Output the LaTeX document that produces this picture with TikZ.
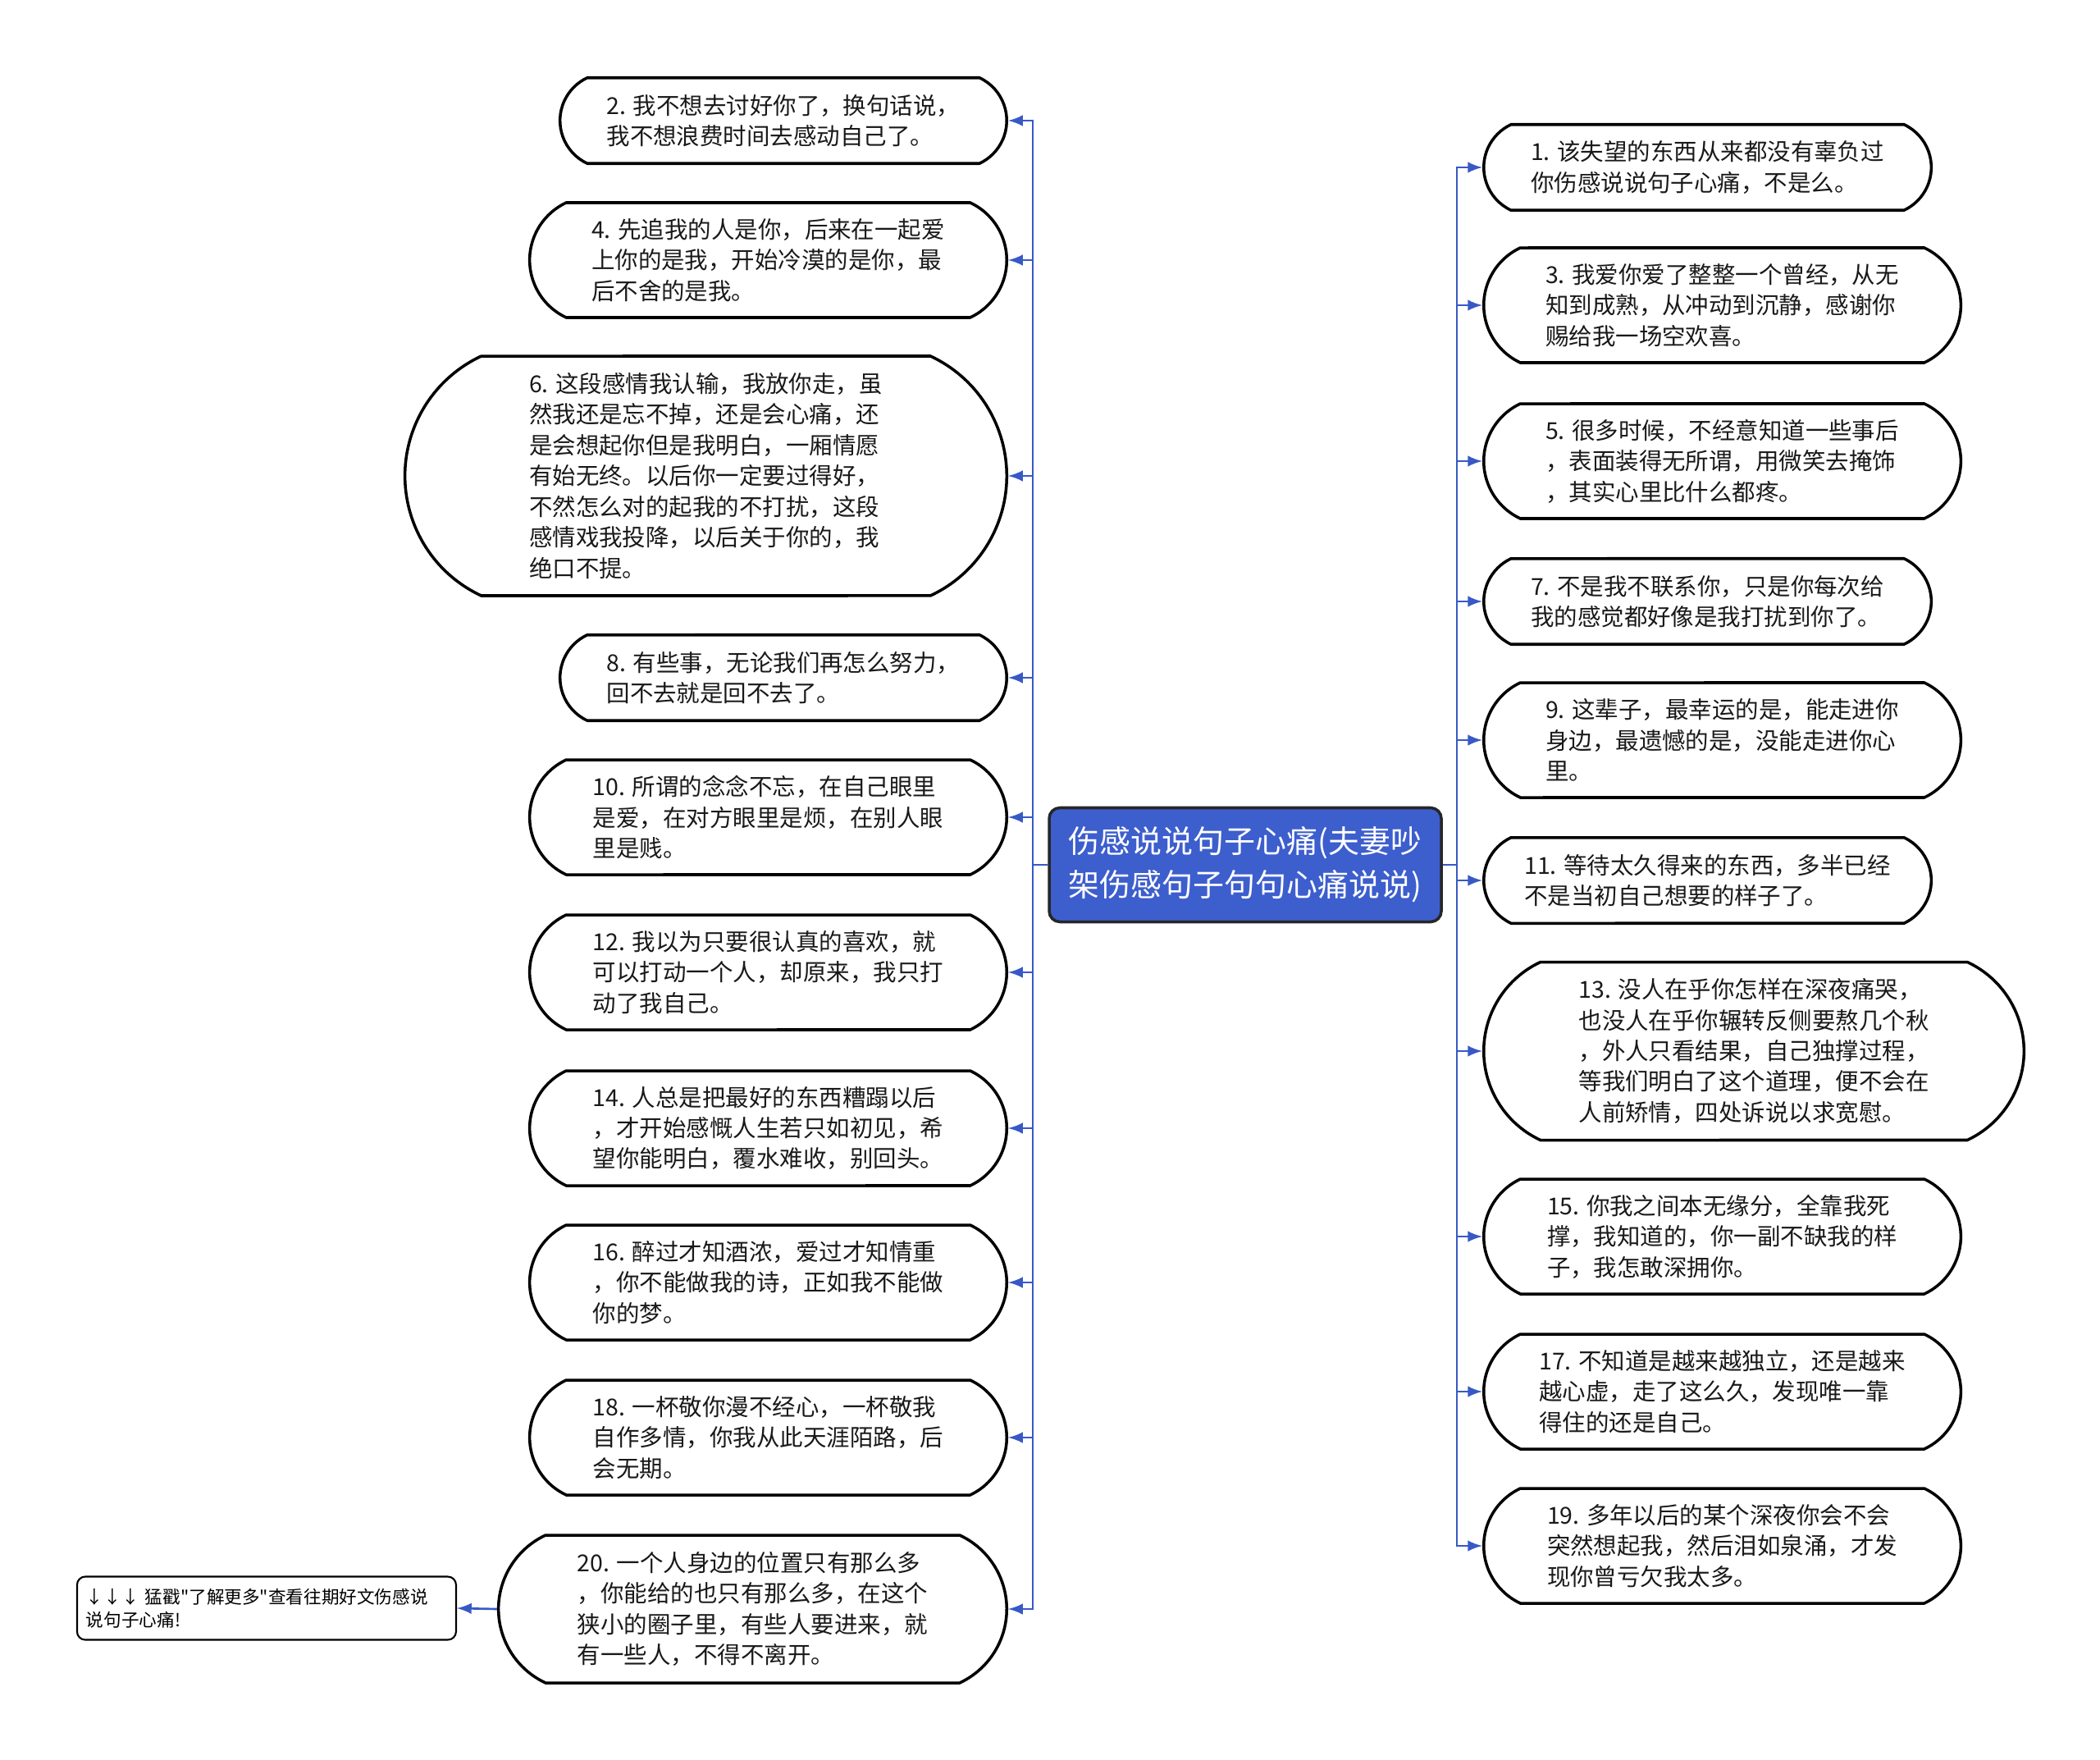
\documentclass[tikz,border=0pt]{standalone}
\usepackage{fontspec}
\setmainfont{Noto Sans CJK SC}
\newfontfamily\notefont{Noto Sans CJK SC}
\usetikzlibrary{shapes.misc}
\definecolor{linkblue}{RGB}{56,89,197}
\definecolor{rootblue}{RGB}{61,94,205}

\begin{document}
\begin{tikzpicture}[
  leaf/.style={rounded rectangle,rounded rectangle arc length=130,draw=black,line width=1pt,fill=white,align=left,text=black!90,font=\fontsize{8.1}{10.66}\selectfont},
  two/.style={leaf,minimum width=5.68cm,minimum height=1.045cm},
  three/.style={leaf,minimum width=6.05cm,minimum height=1.40cm},
  link/.style={linkblue,line width=0.75pt,-latex}]
\useasboundingbox (0,0) rectangle (25.6,-21.45);
\path (15.18,-10.54) node(t)[rectangle,rounded corners=0.13cm,draw=black!85,fill=rootblue,line width=1pt,minimum width=4.78cm,minimum height=1.39cm,text=white,align=left,font=\fontsize{10.8}{15}\selectfont]{伤感说说句子心痛(夫妻吵\\ 架伤感句子句句心痛说说)}
(12.29,-1.47) node(p2)[two,anchor=east]{2. 我不想去讨好你了，换句话说，\\ 我不想浪费时间去感动自己了。}
(12.29,-3.17) node(p4)[three,anchor=east]{4. 先追我的人是你，后来在一起爱\\ 上你的是我，开始冷漠的是你，最\\ 后不舍的是我。}
(12.29,-5.80) node(p6)[leaf,anchor=east,minimum width=7.57cm,minimum height=2.92cm]{6. 这段感情我认输，我放你走，虽\\ 然我还是忘不掉，还是会心痛，还\\ 是会想起你但是我明白，一厢情愿\\ 有始无终。以后你一定要过得好，\\ 不然怎么对的起我的不打扰，这段\\ 感情戏我投降，以后关于你的，我\\ 绝口不提。}
(12.29,-8.26) node(p8)[two,anchor=east]{8. 有些事，无论我们再怎么努力，\\ 回不去就是回不去了。}
(12.29,-9.96) node(p10)[three,anchor=east]{10. 所谓的念念不忘，在自己眼里\\ 是爱，在对方眼里是烦，在别人眼\\ 里是贱。}
(12.29,-11.85) node(p12)[three,anchor=east]{12. 我以为只要很认真的喜欢，就\\ 可以打动一个人，却原来，我只打\\ 动了我自己。}
(12.29,-13.75) node(p14)[three,anchor=east]{14. 人总是把最好的东西糟蹋以后\\ ，才开始感慨人生若只如初见，希\\ 望你能明白，覆水难收，别回头。}
(12.29,-15.63) node(p16)[three,anchor=east]{16. 醉过才知酒浓，爱过才知情重\\ ，你不能做我的诗，正如我不能做\\ 你的梦。}
(12.29,-17.52) node(p18)[three,anchor=east]{18. 一杯敬你漫不经心，一杯敬我\\ 自作多情，你我从此天涯陌路，后\\ 会无期。}
(12.29,-19.61) node(p20)[leaf,anchor=east,minimum width=6.43cm,minimum height=1.80cm]{20. 一个人身边的位置只有那么多\\ ，你能给的也只有那么多，在这个\\ 狭小的圈子里，有些人要进来，就\\ 有一些人，不得不离开。}
(5.57,-19.60) node(m)[rectangle,anchor=east,rounded corners=0.1cm,draw=black,line width=0.6pt,text width=4.40cm,inner xsep=0.11cm,minimum height=0.77cm,align=left,font=\notefont\fontsize{6.15}{7.9}\selectfont]{↓↓↓ 猛戳"了解更多"查看往期好文伤感说\\ 说句子心痛!}
(18.07,-2.04) node(p1)[two,anchor=west,minimum width=5.69cm]{1. 该失望的东西从来都没有辜负过\\ 你伤感说说句子心痛，不是么。}
(18.07,-3.72) node(p3)[three,anchor=west]{3. 我爱你爱了整整一个曾经，从无\\ 知到成熟，从冲动到沉静，感谢你\\ 赐给我一场空欢喜。}
(18.07,-5.62) node(p5)[three,anchor=west]{5. 很多时候，不经意知道一些事后\\ ，表面装得无所谓，用微笑去掩饰\\ ，其实心里比什么都疼。}
(18.07,-7.33) node(p7)[two,anchor=west,minimum width=5.69cm]{7. 不是我不联系你，只是你每次给\\ 我的感觉都好像是我打扰到你了。}
(18.07,-9.02) node(p9)[three,anchor=west]{9. 这辈子，最幸运的是，能走进你\\ 身边，最遗憾的是，没能走进你心\\ 里。}
(18.07,-10.73) node(p11)[two,anchor=west,minimum width=5.69cm]{11. 等待太久得来的东西，多半已经\\ 不是当初自己想要的样子了。}
(18.07,-12.81) node(p13)[leaf,anchor=west,minimum width=6.82cm,minimum height=2.17cm]{13. 没人在乎你怎样在深夜痛哭，\\ 也没人在乎你辗转反侧要熬几个秋\\ ，外人只看结果，自己独撑过程，\\ 等我们明白了这个道理，便不会在\\ 人前矫情，四处诉说以求宽慰。}
(18.07,-15.07) node(p15)[three,anchor=west]{15. 你我之间本无缘分，全靠我死\\ 撑，我知道的，你一副不缺我的样\\ 子，我怎敢深拥你。}
(18.07,-16.96) node(p17)[three,anchor=west]{17. 不知道是越来越独立，还是越来\\ 越心虚，走了这么久，发现唯一靠\\ 得住的还是自己。}
(18.07,-18.84) node(p19)[three,anchor=west]{19. 多年以后的某个深夜你会不会\\ 突然想起我，然后泪如泉涌，才发\\ 现你曾亏欠我太多。};
\coordinate (lb) at (12.59,-10.54);
\coordinate (rb) at (17.76,-10.54);
%left branch
\draw[link](t.west)--(lb)|-(p2.east);
\draw[link](t.west)--(lb)|-(p4.east);
\draw[link](t.west)--(lb)|-(p6.east);
\draw[link](t.west)--(lb)|-(p8.east);
\draw[link](t.west)--(lb)|-(p10.east);
\draw[link](t.west)--(lb)|-(p12.east);
\draw[link](t.west)--(lb)|-(p14.east);
\draw[link](t.west)--(lb)|-(p16.east);
\draw[link](t.west)--(lb)|-(p18.east);
\draw[link](t.west)--(lb)|-(p20.east);
\draw[link](p20.west)--(m.east);
%right branch
\draw[link](t.east)--(rb)|-(p1.west);
\draw[link](t.east)--(rb)|-(p3.west);
\draw[link](t.east)--(rb)|-(p5.west);
\draw[link](t.east)--(rb)|-(p7.west);
\draw[link](t.east)--(rb)|-(p9.west);
\draw[link](t.east)--(rb)|-(p11.west);
\draw[link](t.east)--(rb)|-(p13.west);
\draw[link](t.east)--(rb)|-(p15.west);
\draw[link](t.east)--(rb)|-(p17.west);
\draw[link](t.east)--(rb)|-(p19.west);
\end{tikzpicture}
\end{document}
